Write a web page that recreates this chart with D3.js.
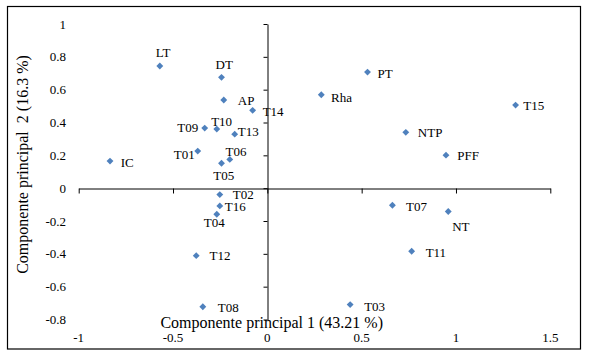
<!DOCTYPE html>
<html><head><meta charset="utf-8">
<script src="https://cdn.jsdelivr.net/npm/d3@7"></script>
<style>
html,body{margin:0;padding:0;background:#fff;}
svg text{font-family:"Liberation Serif","Times New Roman",serif;fill:#000;}
</style></head>
<body>
<svg id="chart" width="592" height="358"></svg>
<script>
// ---- data ----
const names = ["LT","DT","AP","T14","T09","T10","T13","T01","T06","T05","IC",
  "PT","Rha","T15","NTP","PFF","T02","T16","T04","T12","T08","T07","NT","T11","T03"];
const pc1 = [-0.570,-0.243,-0.231,-0.078,-0.332,-0.268,-0.173,-0.369,-0.199,-0.243,-0.834,
  0.531,0.286,1.316,0.734,0.947,-0.252,-0.252,-0.268,-0.377,-0.342,0.663,0.959,0.765,0.439];
const pc2 = [0.744,0.675,0.537,0.474,0.366,0.360,0.329,0.226,0.175,0.152,0.165,
  0.707,0.569,0.506,0.340,0.201,-0.039,-0.108,-0.159,-0.411,-0.722,-0.104,-0.142,-0.384,-0.709];
const xTicks = [-1,-0.5,0,0.5,1,1.5];
const xTickLabels = ["-1","-0.5","0","0.5","1","1.5"];
const yTicks = [1,0.8,0.6,0.4,0.2,0,-0.2,-0.4,-0.6,-0.8];
const yTickLabels = ["1","0.8","0.6","0.4","0.2","0","-0.2","-0.4","-0.6","-0.8"];
const xTitle = "Componente principal 1 (43.21 %)";
const yTitle = "Componente principal\u00a0\u00a02 (16.3 %)";
// label placement (pixel offsets of label start / middle from marker)
const labelOffsets = [[-4,-14],[-6,-13],[14,0],[10,1],[-27.5,-1],[-5.6,-7.7],[3,-3],[-24,3.3],[-4.3,-7.6],[-8.3,12],[10.7,1.7],
  [10,1],[9.7,2.6],[7.6,0.7],[12,0],[11.3,0],[13,0],[5,0.3],[-13,8.7],[13.3,0],[15,0.4],[13.7,1.7],[4,15.4],[14,1.7],[14,1.7]];

// ---- chart ----
const svg = d3.select("#chart");
svg.append("rect").attr("x",7.5).attr("y",6.5).attr("width",573).attr("height",342.5)
  .attr("fill","#fff").attr("stroke","#000").attr("stroke-width",1.2);

const x = d3.scaleLinear().domain([-1,1.5]).range([78.7,550.3]);
const y = d3.scaleLinear().domain([-0.8,1]).range([319.5,24]);

// x axis through y=0
const gx = svg.append("g").attr("transform",`translate(0,${Math.round(y(0))+0.5})`)
  .call(d3.axisBottom(x).tickValues(xTicks).tickSize(5).tickSizeOuter(0).tickFormat(""));
gx.select(".domain").attr("stroke","#000");
gx.selectAll(".tick line").attr("stroke","#000");

// y axis through x=0
const gy = svg.append("g").attr("transform",`translate(${Math.round(x(0))+0.5},0)`)
  .call(d3.axisLeft(y).tickValues(yTicks).tickSize(4).tickSizeOuter(0).tickFormat(""));
gy.select(".domain").attr("stroke","#000");
gy.selectAll(".tick line").attr("stroke","#000");

// tick labels at low position
svg.append("g").selectAll("text").data(xTicks).join("text")
  .attr("x",d=>x(d)).attr("y",y(-0.8)+22).attr("text-anchor","middle")
  .attr("font-size",13).text((d,i)=>xTickLabels[i]);
svg.append("g").selectAll("text").data(yTicks).join("text")
  .attr("x",66).attr("y",d=>y(d)+4.5).attr("text-anchor","end")
  .attr("font-size",13).text((d,i)=>yTickLabels[i]);

// titles
svg.append("text").attr("x",271.7).attr("y",328).attr("text-anchor","middle")
  .attr("font-size",16).text(xTitle);
svg.append("text").attr("transform","translate(28,164.5) rotate(-90)")
  .attr("text-anchor","middle").attr("font-size",16).text(yTitle);

// points
const pts = names.map((n,i)=>({n, a:pc1[i], b:pc2[i], o:labelOffsets[i]}));
const diamond = d3.symbol().type(d3.symbolDiamond2).size(30);
svg.append("g").selectAll("path").data(pts).join("path")
  .attr("d",diamond).attr("transform",d=>`translate(${x(d.a)},${y(d.b)})`)
  .attr("fill","#4F81BD");
svg.append("g").selectAll("text").data(pts).join("text")
  .attr("x",d=>x(d.a)+d.o[0]).attr("y",d=>y(d.b)+d.o[1]+4.5)
  .attr("font-size",13).text(d=>d.n);
</script>
</body></html>
